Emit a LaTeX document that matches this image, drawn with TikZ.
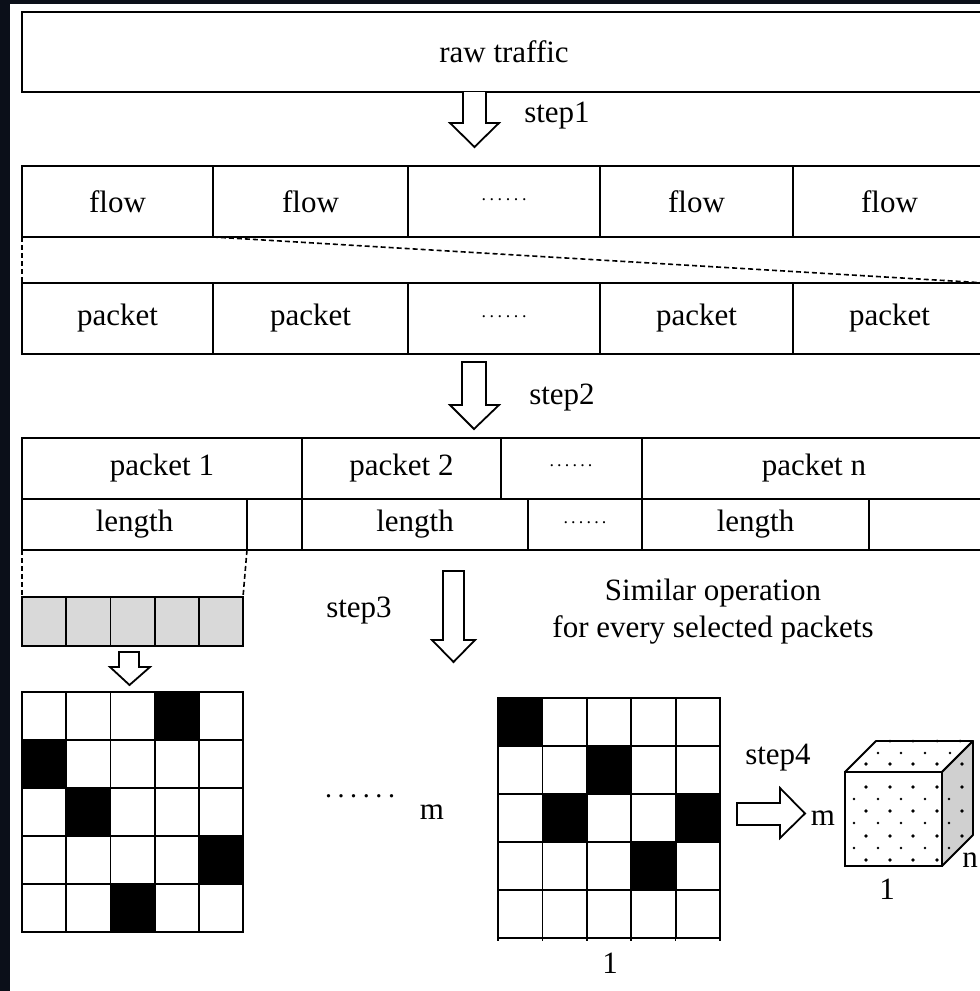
\documentclass[tikz,border=0pt]{standalone}
\usepackage{fontspec}
\setmainfont{Liberation Serif}
\definecolor{darkbg}{HTML}{0B0F19}
\definecolor{cellgrey}{HTML}{D9D9D9}
\definecolor{facegrey}{HTML}{D0D0D0}
\newcommand\cellbox[6]{\node[box, minimum width={(#4-#2)*1pt}, minimum height={(#5-#3)*1pt}] (#1) at ({(#2+#4)/2},{(#3+#5)/2}) {#6};}
\newcommand\sixdots[1]{\makebox[#1]{.\hfill.\hfill.\hfill.\hfill.\hfill.}}
\begin{document}
\begin{tikzpicture}[x=1pt,y=-1pt,
  every node/.style={font=\fontsize{31}{37}\selectfont, inner sep=0pt, outer sep=0pt},
  box/.style={draw, line width=1.8pt, rectangle, fill=white},
  hollow/.style={draw, line width=1.8pt, fill=white, line join=miter},
  dashedline/.style={line width=1.6pt, dash pattern=on 5pt off 3pt},
  smalldots/.style={font=\fontsize{18}{20}\selectfont},
  bigdots/.style={font=\fontsize{28}{30}\selectfont},
]
\useasboundingbox (0,0) rectangle (980,991);
\clip (0,0) rectangle (980,991);
\fill[white] (0,0) rectangle (980,991);
\fill[darkbg] (0,0) rectangle (10,991);
\fill[darkbg] (0,0) rectangle (980,4);

% raw traffic
\cellbox{raw}{22}{12}{986}{92}{raw traffic}
\draw[hollow] (463,92) -- (463,123) -- (450,123) -- (474.5,147) -- (499,123) -- (486,123) -- (486,92);
\node (s1) at (557,116) {step1};

% flow row
\cellbox{f1}{22}{166}{213}{237}{flow}
\cellbox{f2}{213}{166}{408}{237}{flow}
\cellbox{f3}{408}{166}{600}{237}{}
\cellbox{f4}{600}{166}{793}{237}{flow}
\cellbox{f5}{793}{166}{986}{237}{flow}
\node[smalldots] (f3d) at (504,200) {\sixdots{45pt}};

% packet row
\cellbox{p1}{22}{283}{213}{354}{packet}
\cellbox{p2}{213}{283}{408}{354}{packet}
\cellbox{p3}{408}{283}{600}{354}{}
\cellbox{p4}{600}{283}{793}{354}{packet}
\cellbox{p5}{793}{283}{986}{354}{packet}
\node[smalldots] (p3d) at (504,317) {\sixdots{45pt}};

\draw[dashedline] (f1.south west) -- (p1.north west);
\draw[dashedline] (f1.south east) -- (p5.north east);

% step2
\draw[hollow] (462,362) -- (486,362) -- (486,405) -- (499,405) -- (474,429) -- (450,405) -- (462,405) -- cycle;
\node (s2) at (562,398) {step2};

% packet n row
\cellbox{pn1}{22}{438}{302}{499}{packet 1}
\cellbox{pn2}{302}{438}{501}{499}{packet 2}
\cellbox{pn3}{501}{438}{642}{499}{}
\cellbox{pn4}{642}{438}{986}{499}{packet n}
\node[smalldots] (pn3d) at (571,466) {\sixdots{43pt}};

% length row
\cellbox{ln1}{22}{499}{247}{550}{length}
\cellbox{ln2}{247}{499}{302}{550}{}
\cellbox{ln3}{302}{499}{528}{550}{length}
\cellbox{ln4}{528}{499}{642}{550}{}
\cellbox{ln5}{642}{499}{869}{550}{length}
\cellbox{ln6}{869}{499}{986}{550}{}
\node[smalldots] (ln4d) at (585,523) {\sixdots{43pt}};

% grey byte row
\foreach \i in {1,...,5} {
  \node[box, fill=cellgrey, minimum width=44.2pt, minimum height=49pt] (g\i) at ({22+44.2*(\i-0.5)},621.5) {};
}
\draw[dashedline] (ln1.south west) -- (g1.north west);
\draw[dashedline] (ln1.south east) -- (g5.north east);
\draw[hollow] (119,652) -- (139,652) -- (139,667) -- (150,667) -- (129.5,685) -- (110,667) -- (119,667) -- cycle;

% step3
\draw[hollow] (443,571) -- (464,571) -- (464,640) -- (475,640) -- (453.5,662) -- (432,640) -- (443,640) -- cycle;
\node (s3) at (359,611) {step3};
\node[align=center] (sim) at (713,612) {Similar operation\\for every selected packets};

% left matrix
\foreach \r in {1,...,5} \foreach \c in {1,...,5} {
  \node[box, minimum width=44.2pt, minimum height=48pt] (L-\r-\c) at ({22+44.2*(\c-0.5)},{692+48*(\r-0.5)}) {};
}
\foreach \r/\c in {1/4,2/1,3/2,4/5,5/3} {
  \node[box, fill=black, minimum width=44.2pt, minimum height=48pt] (LB-\r-\c) at ({22+44.2*(\c-0.5)},{692+48*(\r-0.5)}) {};
}
\node[bigdots] (mdots) at (360,796) {\sixdots{70pt}};
\node (m1) at (432,812) {m};

% right matrix
\foreach \r in {1,...,5} \foreach \c in {1,...,5} {
  \node[box, minimum width=44.4pt, minimum height=48pt] (R-\r-\c) at ({498+44.4*(\c-0.5)},{698+48*(\r-0.5)}) {};
}
\foreach \r/\c in {1/1,2/3,3/2,3/5,4/4} {
  \node[box, fill=black, minimum width=44.4pt, minimum height=48pt] (RB-\r-\c) at ({498+44.4*(\c-0.5)},{698+48*(\r-0.5)}) {};
}
\foreach \i in {0,...,5} { \draw[line width=1.5pt] ({498+44.4*\i},938) -- ({498+44.4*\i},941); }
\node (one1) at (610,963) {1};

% step4
\draw[hollow] (737,803) -- (780,803) -- (780,788) -- (805,813.5) -- (780,838) -- (780,825) -- (737,825) -- cycle;
\node (s4) at (778,758) {step4};
\node (m2) at (823,818) {m};

% cube
\draw[line width=1.8pt, fill=white, line join=round] (845,772) -- (876,741) -- (973,741) -- (942,772) -- cycle;
\draw[line width=1.8pt, fill=facegrey, line join=round] (942,772) -- (973,741) -- (973,835) -- (942,866) -- cycle;
\draw[line width=1.8pt, fill=white] (845,772) rectangle (942,866);
\foreach \y in {787,811,836,860} \foreach \x in {866,890,913,937} { \fill (\x,\y) circle (1.8); }
\foreach \y in {799,823,848} \foreach \x in {854,878,901,925} { \fill (\x,\y) circle (1.3); }
\foreach \x in {878,901,925,950} { \fill (\x,753) circle (1.3); }
\foreach \x in {866,890,913,937} { \fill (\x,764) circle (1.8); }
\foreach \x in {890,913,937,960} { \fill (\x,741) circle (1.5); }
\foreach \y in {799,823,848} { \fill (949,\y) circle (1.3); }
\foreach \y in {764,787,811,836} { \fill (962,\y) circle (1.8); }
\node (n1) at (970,860) {n};
\node (one2) at (887,889) {1};
\end{tikzpicture}
\end{document}
